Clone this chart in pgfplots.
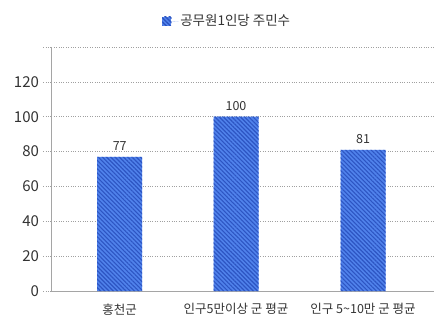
\documentclass[border=0pt]{standalone}
\usepackage{pgfplots}
\pgfplotsset{compat=1.18}
\usetikzlibrary{patterns.meta}
\usepackage{fontspec}
\setmainfont{Noto Sans CJK KR}
\definecolor{barblue}{RGB}{80,130,235}
\definecolor{stripe}{RGB}{45,85,195}
\definecolor{txt}{RGB}{51,51,51}
\definecolor{axisgray}{RGB}{165,165,165}
\definecolor{gridgray}{RGB}{160,160,160}
\tikzset{hatchbar/.style={fill=barblue, draw=none, postaction={pattern={Lines[angle=-45,distance=3pt,line width=1.1pt]}, pattern color=stripe}}}
\begin{document}
\begin{tikzpicture}[x=1pt,y=1pt]
\path[use as bounding box] (-51.5pt,-31pt) rectangle (384.5pt,291pt);
\begin{axis}[
  name=ax,
  at={(0pt,0pt)}, anchor=south west,
  scale only axis,
  width=382pt, height=244pt,
  xmin=51, xmax=433,
  ymin=0, ymax=140,
  /pgf/number format/assume math mode=true,
  ytick={0,20,40,60,80,100,120,140},
  yticklabels={0,20,40,60,80,100,120,{}},
  xtick={119.2,235.5,362.5},
  xticklabels={홍천군,인구5만이상 군 평균,인구 5\textasciitilde10만 군 평균},
  axis x line*=bottom, axis y line*=left,
  axis line style={axisgray, line width=1pt, solid},
  x axis line style={-, solid}, y axis line style={-, draw=none},
  ymajorgrids,
  grid style={gridgray, dotted, line width=0.6pt},
  ytick style={gridgray, dotted, line width=0.6pt},
  xtick style={draw=none},
  tick align=outside,
  major tick length=8pt,
  yticklabel style={font=\fontsize{15}{15}\selectfont, text=txt, xshift=-1pt},
  xticklabel style={font=\fontsize{12.5}{13}\selectfont, text=txt, yshift=-1pt},
  ybar, bar width=45,
  nodes near coords,
  every node near coord/.append style={font=\fontsize{12.5}{13}\selectfont, text=txt, yshift=3pt},
  legend style={at={(rel axis cs:0.46,1)}, anchor=center, yshift=26pt, draw=none, fill=none, font=\fontsize{13.5}{14}\selectfont, text=txt},
  legend image code/.code={\path[hatchbar] (0pt,-4.5pt) rectangle (9pt,4.5pt); \path (0pt,0pt) -- (16pt,0pt);},
  clip=false,
]
\addplot[hatchbar] coordinates {(119.2,77) (235.5,100) (362.5,81)};
\addlegendentry{공무원1인당 주민수}
\end{axis}
\draw[axisgray, line width=1pt, solid] (ax.south west) -- (ax.north west);
\end{tikzpicture}
\end{document}
